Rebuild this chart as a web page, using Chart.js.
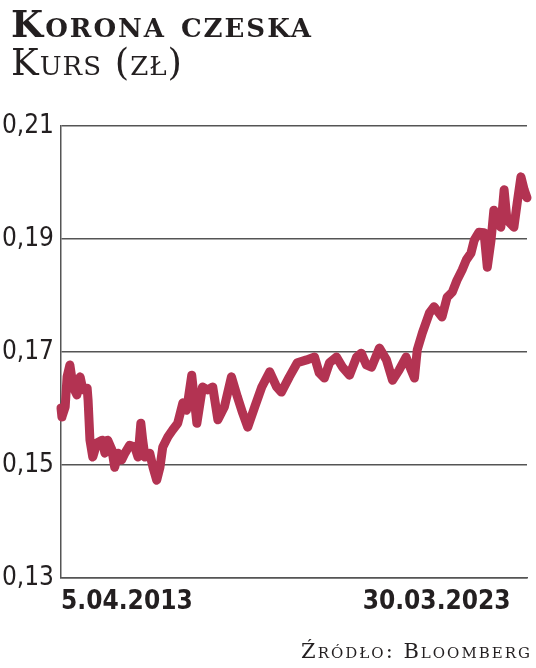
<!DOCTYPE html>
<html><head><meta charset="utf-8">
<script src="https://cdn.jsdelivr.net/npm/chart.js@4/dist/chart.umd.min.js"></script>
<style>
html,body{margin:0;padding:0;background:#fff;}
#wrap{position:relative;width:536px;height:668px;overflow:hidden;}
#c{position:absolute;left:0;top:0;}
.t{position:absolute;font-family:"DejaVu Serif",serif;font-variant:small-caps;color:#231f20;white-space:nowrap;line-height:1;}
#title{left:11px;top:6px;font-size:37px;font-weight:bold;letter-spacing:2px;}
#sub{left:11px;top:44px;font-size:37px;letter-spacing:1px;}
#src{right:4px;top:641px;font-size:21px;letter-spacing:2px;}
</style></head>
<body><div id="wrap"><canvas id="c" width="536" height="668"></canvas>
<div class="t" id="title">Korona czeska</div>
<div class="t" id="sub">Kurs (zł)</div>
<div class="t" id="src">Źródło: Bloomberg</div></div>
<script>
const years = [2013.26,2013.28,2013.35,2013.39,2013.45,2013.52,2013.60,2013.67,2013.73,2013.82,2013.84,2013.88,2013.94,2014.03,2014.14,2014.20,2014.26,2014.35,2014.41,2014.48,2014.56,2014.63,2014.73,2014.84,2014.91,2014.97,2015.01,2015.06,2015.16,2015.23,2015.31,2015.38,2015.44,2015.55,2015.65,2015.76,2015.87,2015.95,2016.06,2016.17,2016.29,2016.40,2016.51,2016.62,2016.76,2016.91,2017.04,2017.15,2017.26,2017.41,2017.56,2017.73,2017.88,2017.98,2018.15,2018.32,2018.52,2018.69,2018.79,2018.90,2019.01,2019.16,2019.29,2019.44,2019.59,2019.69,2019.80,2019.91,2020.08,2020.23,2020.36,2020.50,2020.65,2020.76,2020.83,2020.89,2021.00,2021.15,2021.25,2021.42,2021.53,2021.64,2021.74,2021.85,2021.94,2022.04,2022.11,2022.21,2022.32,2022.39,2022.47,2022.53,2022.60,2022.68,2022.75,2022.81,2022.96,2023.03,2023.11,2023.18,2023.24];
const rates = [0.1601,0.1585,0.1603,0.1656,0.1677,0.1638,0.1624,0.1656,0.1633,0.1636,0.1615,0.1544,0.1514,0.1539,0.1544,0.1521,0.1544,0.1527,0.1496,0.1521,0.1509,0.1521,0.1535,0.1532,0.1514,0.1574,0.1544,0.1514,0.1521,0.1496,0.1473,0.1496,0.1532,0.1550,0.1562,0.1574,0.1610,0.1597,0.1659,0.1574,0.1638,0.1633,0.1638,0.1580,0.1603,0.1656,0.1620,0.1592,0.1567,0.1603,0.1638,0.1665,0.1638,0.1629,0.1656,0.1681,0.1686,0.1691,0.1663,0.1654,0.1681,0.1691,0.1673,0.1659,0.1691,0.1698,0.1677,0.1673,0.1707,0.1686,0.1650,0.1668,0.1691,0.1668,0.1654,0.1704,0.1734,0.1769,0.1780,0.1762,0.1797,0.1806,0.1827,0.1845,0.1863,0.1875,0.1898,0.1912,0.1911,0.1850,0.1898,0.1951,0.1928,0.1921,0.1987,0.1934,0.1921,0.1964,0.2010,0.1987,0.1973];
const yTicks = [0.13,0.15,0.17,0.19,0.21];
const yTickLabels = ['0,13','0,15','0,17','0,19','0,21'];
const xTickLabels = ['5.04.2013','30.03.2023'];

const narrow = '"DejaVu Sans Condensed","DejaVu Sans",sans-serif';
new Chart(document.getElementById('c'), {
  type: 'line',
  data: { datasets: [{
    data: years.map((x, i) => ({ x: x, y: rates[i] })),
    borderColor: '#b33352', borderWidth: 9, pointRadius: 0, tension: 0,
    borderJoinStyle: 'round', borderCapStyle: 'round', fill: false
  }]},
  options: {
    responsive: false, animation: false, devicePixelRatio: 1,
    clip: false,
    layout: { padding: { top: 126, right: 8, bottom: 50, left: 0 } },
    plugins: { legend: { display: false }, tooltip: { enabled: false } },
    scales: {
      x: {
        type: 'linear', min: years[0], max: years[years.length - 1],
        grid: { display: false, drawTicks: false },
        border: { color: '#555', width: 1.5 },
        afterBuildTicks: s => { s.ticks = [{ value: years[0] }, { value: years[years.length - 1] }]; },
        ticks: { align: 'inner', maxRotation: 0, autoSkip: false, padding: 9, color: '#231f20',
          font: { family: narrow, size: 26, weight: 'bold' },
          callback: (v, i) => i === xTickLabels.length - 1 ? xTickLabels[i] + '\u2002\u2009' : xTickLabels[i] },
        afterFit: s => { s.height = 40; }
      },
      y: {
        min: 0.13, max: 0.21,
        afterBuildTicks: s => { s.ticks = yTicks.map(v => ({ value: v })); },
        ticks: { padding: 7, color: '#231f20', font: { family: narrow, size: 26 },
          callback: (v, i) => yTickLabels[i] },
        grid: { color: '#555', lineWidth: 1.5, drawTicks: false },
        border: { color: '#555', width: 1.5 },
        afterFit: s => { s.width = 61; }
      }
    }
  }
});
</script>
</body></html>
